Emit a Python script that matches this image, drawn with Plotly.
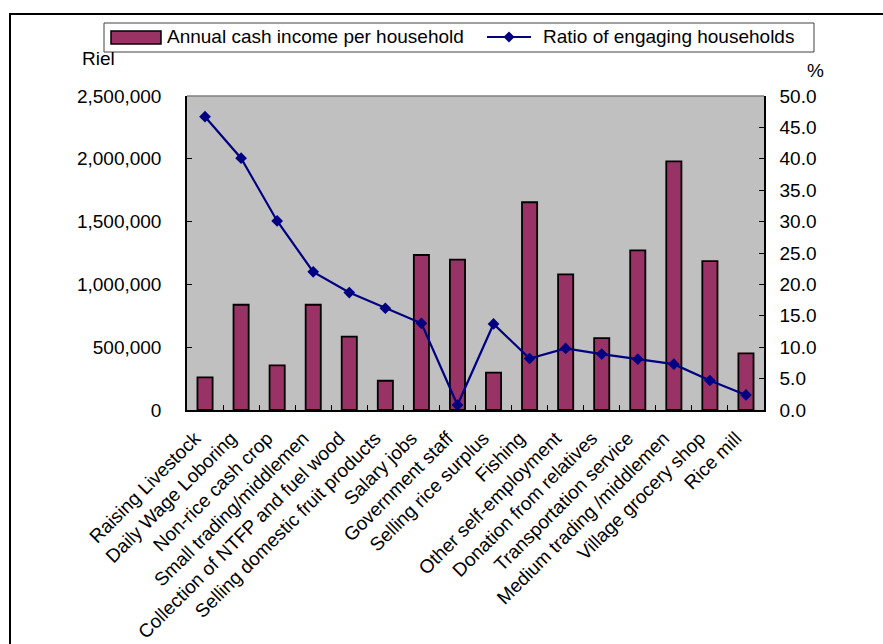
import plotly.graph_objects as go

# Income sources (x categories)
categories = [
    "Raising Livestock",
    "Daily Wage Loboring",
    "Non-rice cash crop",
    "Small trading/middlemen",
    "Collection of NTFP and fuel wood",
    "Selling domestic fruit products",
    "Salary jobs",
    "Government staff",
    "Selling rice surplus",
    "Fishing",
    "Other self-employment",
    "Donation from relatives",
    "Transportation service",
    "Medium trading /middlemen",
    "Village grocery shop",
    "Rice mill",
]

# Annual cash income per household (Riel)
income_riel = [260000, 838000, 356000, 838000, 584000, 233000, 1234000, 1197000,
               297000, 1654000, 1080000, 573000, 1271000, 1980000, 1186000, 451000]

# Share of households engaged in each source (%)
ratio_pct = [46.7, 40.1, 30.1, 22.0, 18.7, 16.2, 13.8, 0.8,
             13.7, 8.2, 9.8, 8.9, 8.1, 7.3, 4.7, 2.4]

left_ticks = [0, 500000, 1000000, 1500000, 2000000, 2500000]
right_ticks = [0, 5, 10, 15, 20, 25, 30, 35, 40, 45, 50]

BAR_NAME = "Annual cash income per household"
LINE_NAME = "Ratio of engaging households"

BAR_COLOR = "#993366"
LINE_COLOR = "#000080"
FONT = "Liberation Sans, Arial, sans-serif"
FS = 19

W, H = 883, 644
ML, MR, MT, MB = 187, 119, 96, 234
PW, PH = W - ML - MR, H - MT - MB


def px_x(x):
    return (x - ML) / PW


def px_y(y):
    return (H - MB - y) / PH


fig = go.Figure()

fig.add_trace(go.Bar(
    x=categories, y=income_riel, name=BAR_NAME,
    marker=dict(color=BAR_COLOR, line=dict(color="black", width=1.8)),
    width=0.42, showlegend=False, yaxis="y",
))

fig.add_trace(go.Scatter(
    x=categories, y=ratio_pct, name=LINE_NAME, mode="lines+markers",
    line=dict(color=LINE_COLOR, width=2.2),
    marker=dict(symbol="diamond", size=9, color=LINE_COLOR),
    showlegend=False, yaxis="y2",
))

fig.update_layout(
    width=W, height=H,
    margin=dict(l=ML, r=MR, t=MT, b=MB, pad=0),
    paper_bgcolor="white",
    plot_bgcolor="#C0C0C0",
    font=dict(family=FONT, size=FS, color="black"),
    xaxis=dict(
        type="category", range=[-0.5, len(categories) - 0.5],
        tickangle=-45, ticks="inside", ticklen=5,
        tickson="boundaries", tickcolor="black", showline=True,
        linecolor="black", linewidth=1.5, showgrid=False,
        tickfont=dict(size=FS), automargin=False,
        ticklabelstandoff=8, ticklabelshift=-10,
    ),
    yaxis=dict(
        range=[0, 2500000], tickvals=left_ticks, tickformat=",d",
        ticks="inside", ticklen=5, tickcolor="black", showline=True,
        linecolor="black", linewidth=1.5, showgrid=False, zeroline=False,
        ticklabelstandoff=20, automargin=False,
    ),
    yaxis2=dict(
        range=[0, 50], tickvals=right_ticks, tickformat=".1f",
        overlaying="y", side="right",
        ticks="inside", ticklen=5, tickcolor="black", showline=True,
        linecolor="black", linewidth=1.5, showgrid=False, zeroline=False,
        ticklabelstandoff=10, automargin=False,
    ),
)

shapes = []
# top edge of plot area
shapes.append(dict(type="line", xref="paper", yref="paper", x0=0, x1=1, y0=1, y1=1,
                   line=dict(color="#808080", width=1.5)))
# outer frame
shapes.append(dict(type="rect", xref="paper", yref="paper",
                   x0=px_x(10), x1=px_x(W + 10), y0=px_y(H + 10), y1=px_y(14),
                   line=dict(color="black", width=2)))
# legend box
shapes.append(dict(type="rect", xref="paper", yref="paper",
                   x0=px_x(104), x1=px_x(814), y0=px_y(52), y1=px_y(23),
                   line=dict(color="#404040", width=1), fillcolor="white"))
# legend bar swatch
shapes.append(dict(type="rect", xref="paper", yref="paper",
                   x0=px_x(111), x1=px_x(161), y0=px_y(44), y1=px_y(31),
                   line=dict(color="black", width=1.5), fillcolor=BAR_COLOR))
# legend line swatch
shapes.append(dict(type="line", xref="paper", yref="paper",
                   x0=px_x(487), x1=px_x(531), y0=px_y(37), y1=px_y(37),
                   line=dict(color=LINE_COLOR, width=2)))
cx, cy, r = 509, 37, 5.5
shapes.append(dict(
    type="path", xref="paper", yref="paper",
    path=(f"M {px_x(cx - r)} {px_y(cy)} L {px_x(cx)} {px_y(cy - r)} "
          f"L {px_x(cx + r)} {px_y(cy)} L {px_x(cx)} {px_y(cy + r)} Z"),
    fillcolor=LINE_COLOR, line=dict(color=LINE_COLOR, width=0)))

annotations = [
    dict(text=BAR_NAME, xref="paper", yref="paper", x=px_x(165), y=px_y(37),
         xanchor="left", yanchor="middle", showarrow=False, font=dict(size=FS)),
    dict(text=LINE_NAME, xref="paper", yref="paper", x=px_x(541), y=px_y(37),
         xanchor="left", yanchor="middle", showarrow=False, font=dict(size=FS)),
    dict(text="Riel", xref="paper", yref="paper", x=px_x(80), y=px_y(59),
         xanchor="left", yanchor="middle", showarrow=False, font=dict(size=FS)),
    dict(text="%", xref="paper", yref="paper", x=px_x(815), y=px_y(71),
         xanchor="center", yanchor="middle", showarrow=False, font=dict(size=FS)),
]

fig.update_layout(shapes=shapes, annotations=annotations)

fig.write_html("out.html")
